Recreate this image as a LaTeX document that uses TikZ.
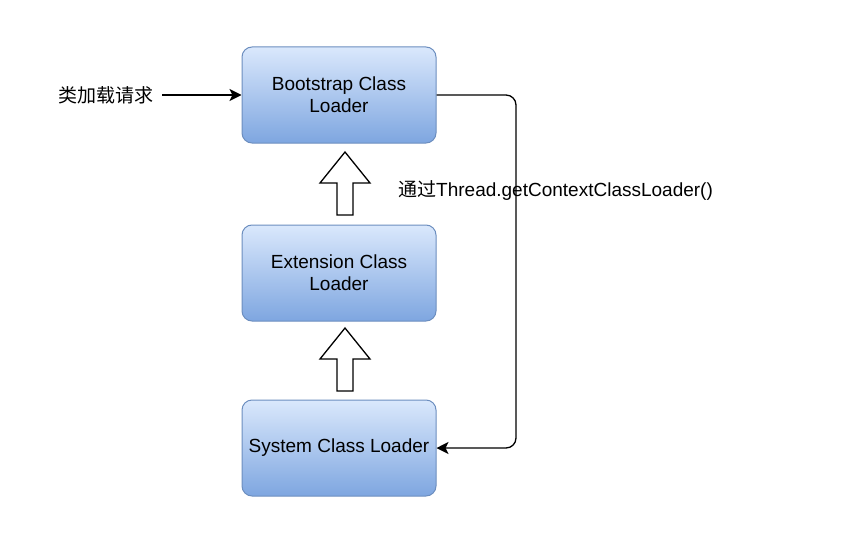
\documentclass[tikz,border=0pt]{standalone}
\usepackage{fontspec}
\setmainfont{Liberation Sans}
\newfontfamily\cjk{Noto Sans CJK SC}
\usepackage{xcolor}
\usetikzlibrary{arrows.meta, positioning}

\definecolor{boxline}{RGB}{108,142,191}
\definecolor{boxtop}{RGB}{218,232,252}
\definecolor{boxbottom}{RGB}{126,166,224}

\tikzset{
    loader/.style={rectangle, rounded corners=10pt, draw=boxline, line width=1pt,
        top color=boxtop, bottom color=boxbottom, minimum width=194pt, minimum height=96pt,
        align=center, font=\fontsize{19}{22}\selectfont},
    label/.style={font=\fontsize{19}{22}\selectfont, inner sep=0pt},
    flow/.style={line width=1.3pt, -{Stealth[length=12pt, width=12pt, inset=3pt]}},
    hollow/.style={draw=black, fill=white, line width=1.3pt, line join=miter}
}

\begin{document}
\begin{tikzpicture}[x=1pt, y=-1pt]
    \useasboundingbox (0,0) rectangle (842,532);

    % Loader hierarchy
    \node[loader] (boot) at (339,95) {Bootstrap Class\\Loader};
    \node[loader] (ext) at (339,273) {Extension Class\\Loader};
    \node[loader] (sys) at (339,448) {System Class Loader};

    % Request entering at the top
    \node[label, anchor=west] (req) at (58,95) {{\cjk 类加载请求}};
    \draw[flow] (req.east) ++(9,0) -- (boot.west);

    % Delegation arrows (hollow)
    \foreach \tip in {152,328} {
        \draw[hollow] (345,\tip) -- (370,\tip+31) -- (353,\tip+31) -- (353,\tip+63)
            -- (337,\tip+63) -- (337,\tip+31) -- (320,\tip+31) -- cycle;
    }

    % Context class loader path
    \coordinate (turn) at (516,0);
    \draw[flow, rounded corners=10pt] (boot.east) -- (boot.east -| turn)
        -- (sys.east -| turn) -- (sys.east);
    \node[label, anchor=west] (ctx) at (398,191) {{\cjk 通过}Thread.getContextClassLoader()};
\end{tikzpicture}
\end{document}
